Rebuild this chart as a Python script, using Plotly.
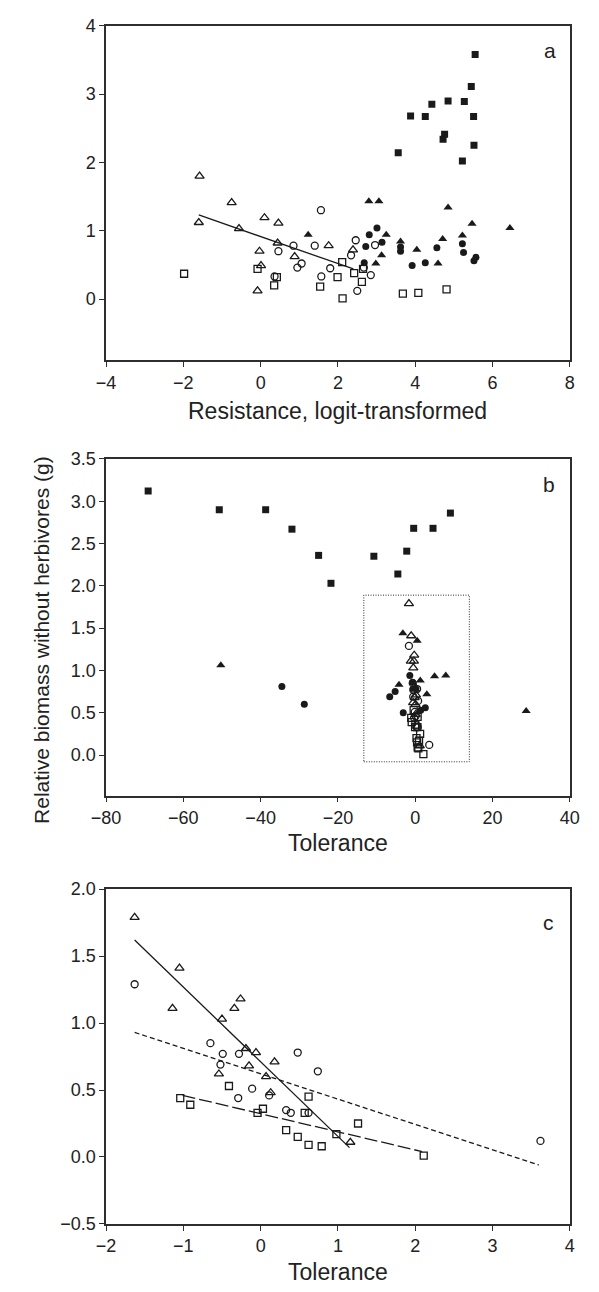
import plotly.graph_objects as go

# ---------------- Panel a: Resistance vs biomass ----------------
a_fsq_x = [5.55, 5.45, 4.43, 4.85, 5.27, 3.88, 4.26, 5.51, 4.76, 4.72, 5.52, 3.56, 5.22]
a_fsq_y = [3.58, 3.11, 2.85, 2.90, 2.89, 2.68, 2.67, 2.67, 2.41, 2.34, 2.25, 2.14, 2.02]
a_otri_x = [-1.58, -0.75, -1.60, 0.10, -0.56, 0.46, 0.44, -0.03, 0.88, 0.01, -0.08, 1.76, 2.39]
a_otri_y = [1.80, 1.41, 1.12, 1.19, 1.03, 1.11, 0.82, 0.70, 0.62, 0.49, 0.12, 0.78, 0.72]
a_ocir_x = [1.56, 2.46, 0.85, 1.40, 2.96, 0.46, 2.34, 1.06, 0.95, 1.80, 0.36, 1.57, 2.85, 2.50, 2.67]
a_ocir_y = [1.30, 0.86, 0.78, 0.78, 0.79, 0.70, 0.64, 0.52, 0.46, 0.45, 0.33, 0.33, 0.35, 0.12, 0.46]
a_osq_x = [-1.98, -0.08, 0.42, 0.35, 1.54, 1.99, 2.11, 2.12, 2.42, 2.65, 2.62, 3.68, 4.08, 4.81]
a_osq_y = [0.37, 0.44, 0.32, 0.20, 0.18, 0.32, 0.54, 0.01, 0.38, 0.44, 0.25, 0.08, 0.09, 0.14]
a_ftri_x = [2.80, 3.06, 4.85, 5.47, 6.45, 1.23, 3.25, 5.22, 4.71, 3.62, 4.04, 3.13, 2.98, 4.59]
a_ftri_y = [1.43, 1.43, 1.34, 1.10, 1.04, 0.94, 0.94, 0.93, 0.88, 0.84, 0.72, 0.64, 0.52, 0.52]
a_fcir_x = [2.81, 3.01, 3.14, 2.72, 3.62, 3.62, 4.56, 5.22, 5.25, 3.92, 4.26, 5.57, 5.52, 2.68]
a_fcir_y = [0.94, 1.04, 0.83, 0.77, 0.76, 0.70, 0.75, 0.81, 0.68, 0.49, 0.53, 0.61, 0.56, 0.53]
a_fit_x = [-1.60, 2.40]
a_fit_y = [1.23, 0.44]

# ---------------- Panel c: Tolerance (zoomed) ----------------
c_otri_x = [-1.63, -1.05, -1.14, -0.50, -0.34, -0.26, -0.19, -0.06, 0.18, -0.15, -0.54, 0.07, 0.13, 1.16]
c_otri_y = [1.79, 1.41, 1.11, 1.03, 1.11, 1.18, 0.81, 0.78, 0.71, 0.68, 0.62, 0.60, 0.48, 0.11]
c_ocir_x = [-1.63, -0.65, -0.49, -0.28, -0.52, 0.48, 0.74, -0.11, -0.29, 0.11, 0.33, 0.39, 0.62, 3.62]
c_ocir_y = [1.29, 0.85, 0.77, 0.77, 0.69, 0.78, 0.64, 0.51, 0.44, 0.46, 0.35, 0.33, 0.33, 0.12]
c_osq_x = [-1.04, -0.91, -0.41, -0.04, 0.03, 0.62, 0.57, 0.33, 0.48, 0.62, 0.79, 0.98, 1.26, 2.11]
c_osq_y = [0.44, 0.39, 0.53, 0.33, 0.36, 0.45, 0.33, 0.20, 0.15, 0.09, 0.08, 0.17, 0.25, 0.01]
c_fit_tri_x = [-1.63, 1.15]
c_fit_tri_y = [1.62, 0.07]
c_fit_cir_x = [-1.63, 3.60]
c_fit_cir_y = [0.93, -0.06]
c_fit_sq_x = [-1.01, 2.09]
c_fit_sq_y = [0.46, 0.04]

# ---------------- Panel b: Tolerance (full) ----------------
b_fsq_x = [-69.1, -50.7, -38.7, -31.9, -25.0, -21.8, -10.7, -4.5, -2.2, -0.4, 4.6, 9.1]
b_fsq_y = [3.12, 2.90, 2.90, 2.67, 2.36, 2.03, 2.35, 2.14, 2.41, 2.68, 2.68, 2.86]
b_ftri_x = [-50.3, -3.2, 0.5, 5.0, 7.9, 28.7, -4.2, 1.3, 3.0, -0.1]
b_ftri_y = [1.06, 1.44, 1.35, 0.93, 0.94, 0.52, 0.83, 0.88, 0.72, 0.78]
b_fcir_x = [-34.5, -28.7, -5.2, -6.6, -3.1, -1.4, 2.6, 1.4, -0.7]
b_fcir_y = [0.81, 0.60, 0.75, 0.69, 0.50, 0.94, 0.56, 0.53, 0.86]
b_box_x = [-13.3, 14.0]
b_box_y = [-0.08, 1.89]

W, H = 599, 1292
INK = "#1a1a1a"
AX = "#2e2e2e"
FONT = "Liberation Sans, Arial, Helvetica, sans-serif"

def py(p):  # pixel row -> paper y
    return 1 - p / H

def px(p):
    return p / W

fig = go.Figure()

def pts(x, y, sym, size, ax, filled):
    mk = dict(symbol=sym, size=size, color=INK)
    if filled:
        mk["line"] = dict(width=0)
    else:
        mk["line"] = dict(width=1.3, color=INK)
    fig.add_trace(go.Scatter(x=x, y=y, mode="markers", marker=mk,
                             xaxis="x" + ax, yaxis="y" + ax, showlegend=False,
                             cliponaxis=True))

def line(x, y, ax, dash="solid"):
    fig.add_trace(go.Scatter(x=x, y=y, mode="lines",
                             line=dict(color=INK, width=1.3, dash=dash),
                             xaxis="x" + ax, yaxis="y" + ax, showlegend=False))

# panel a (axis '')
line(a_fit_x, a_fit_y, "")
pts(a_osq_x, a_osq_y, "square-open", 7, "", False)
pts(a_ocir_x, a_ocir_y, "circle-open", 7, "", False)
pts(a_otri_x, a_otri_y, "triangle-up-open", 8, "", False)
pts(a_fsq_x, a_fsq_y, "square", 7, "", True)
pts(a_ftri_x, a_ftri_y, "triangle-up", 8, "", True)
pts(a_fcir_x, a_fcir_y, "circle", 7, "", True)

# panel b (axis '2')
pts(c_osq_x, c_osq_y, "square-open", 7, "2", False)
pts(c_ocir_x, c_ocir_y, "circle-open", 7, "2", False)
pts(c_otri_x, c_otri_y, "triangle-up-open", 8, "2", False)
pts(b_fsq_x, b_fsq_y, "square", 7, "2", True)
pts(b_ftri_x, b_ftri_y, "triangle-up", 8, "2", True)
pts(b_fcir_x, b_fcir_y, "circle", 7, "2", True)

# panel c (axis '3')
line(c_fit_tri_x, c_fit_tri_y, "3", "solid")
line(c_fit_cir_x, c_fit_cir_y, "3", "5px,3px")
line(c_fit_sq_x, c_fit_sq_y, "3", "13px,4px")
pts(c_osq_x, c_osq_y, "square-open", 7, "3", False)
pts(c_ocir_x, c_ocir_y, "circle-open", 7, "3", False)
pts(c_otri_x, c_otri_y, "triangle-up-open", 8, "3", False)

XDOM = [px(95), px(579)]
axbase = dict(showline=True, mirror=True, linecolor=AX, linewidth=1.5,
              ticks="outside", ticklen=5, tickwidth=1.2, tickcolor=AX,
              showgrid=False, zeroline=False,
              tickfont=dict(family=FONT, size=18, color="#222"))

fig.update_layout(
    width=W, height=H, margin=dict(l=0, r=0, t=0, b=0),
    paper_bgcolor="white", plot_bgcolor="white",
    font=dict(family=FONT, color="#222"),
    xaxis=dict(axbase, domain=XDOM, range=[-4, 8], tick0=-4, dtick=2, anchor="y"),
    yaxis=dict(axbase, domain=[py(356), py(16)], range=[-0.9, 4], tick0=0, dtick=1, anchor="x"),
    xaxis2=dict(axbase, domain=XDOM, range=[-80, 40], tick0=-80, dtick=20, anchor="y2"),
    yaxis2=dict(axbase, domain=[py(798), py(456)], range=[-0.48, 3.5], tick0=0, dtick=0.5,
                tickformat=".1f", anchor="x2"),
    xaxis3=dict(axbase, domain=XDOM, range=[-2, 4], tick0=-2, dtick=1, anchor="y3"),
    yaxis3=dict(axbase, domain=[py(1233), py(893)], range=[-0.5, 2.0], tick0=-0.5, dtick=0.5,
                tickformat=".1f", anchor="x3"),
)

fig.add_shape(type="rect", xref="x2", yref="y2",
              x0=b_box_x[0], x1=b_box_x[1], y0=b_box_y[0], y1=b_box_y[1],
              line=dict(color=AX, width=1, dash="1px,1.5px"), fillcolor="rgba(0,0,0,0)")

def ann(text, x, y, size, angle=0):
    fig.add_annotation(text=text, xref="paper", yref="paper", x=px(x), y=py(y),
                       xanchor="center", yanchor="middle", showarrow=False,
                       textangle=angle, font=dict(family=FONT, size=size, color="#222"))

ann("Resistance, logit-transformed", 337, 407, 23)
ann("Tolerance", 337, 846, 23)
ann("Tolerance", 337, 1282, 23)
ann("Relative biomass without herbivores (g)", 27, 640, 21, -90)
ann("a", 558, 41, 21)
ann("b", 557, 482, 21)
ann("c", 557, 927, 21)

fig.write_html("out.html")
